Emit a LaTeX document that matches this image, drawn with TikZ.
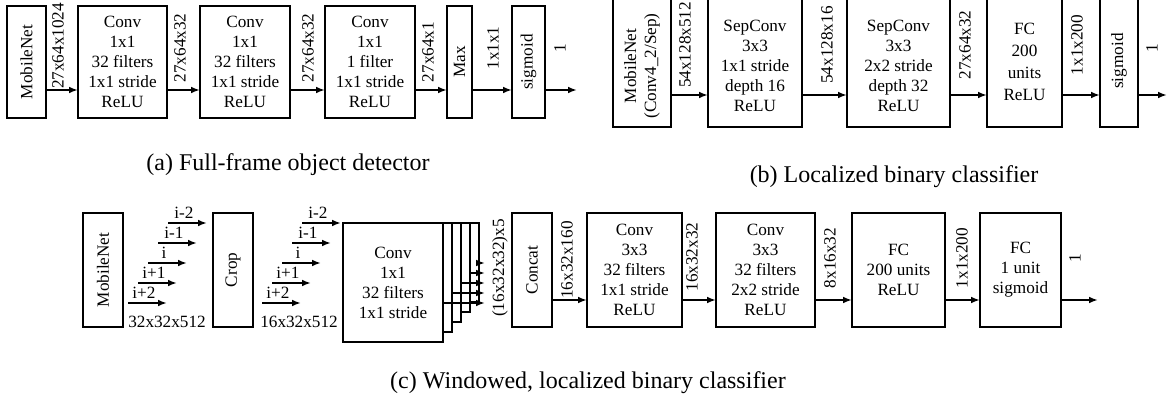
\documentclass[tikz,border=0pt]{standalone}
\usepackage{fontspec}
\setmainfont{Liberation Serif}
\usetikzlibrary{arrows.meta}
\newcommand\fs{\fontsize{8.6}{10}\selectfont}
\newcommand\capfs{\fontsize{12}{14}\selectfont}
\newcommand\bx[6][]{\pgfmathsetmacro\bw{(#5-#3)*0.5}\pgfmathsetmacro\bh{(#6-#4)*0.5}%
  \node[box,#1,minimum width=\bw pt,minimum height=\bh pt] (#2) at ({(#3+#5)/2},{(#4+#6)/2}) {};}
\begin{document}
\begin{tikzpicture}[x=0.5pt,y=-0.5pt,
  box/.style={draw,line width=0.9pt,inner sep=0pt,outer sep=0pt},
  txt/.style={align=center,inner sep=0pt,font=\fs},
  rtxt/.style={txt,rotate=90},
  lab/.style={rotate=90,inner sep=0pt,font=\fs},
  slab/.style={inner sep=0pt,font=\fs,anchor=south},
  captxt/.style={inner sep=0pt,font=\capfs},
  arr/.style={line width=0.9pt,-{Latex[length=4.5pt,width=3.4pt]}}]
\useasboundingbox (0,0) rectangle (1170,400);
\clip (0,0) rectangle (1170,400);
% ---------------- (a)
\coordinate (ya) at (0,90);
\bx{mna}{7}{6}{46}{118}
\bx{ca1}{78}{6}{167}{118}
\bx{ca2}{200}{6}{290}{118}
\bx{ca3}{325}{6}{415}{118}
\bx{maxa}{447}{6}{472}{118}
\bx{siga}{512}{6}{545}{118}
\coordinate (enda) at (577,90);
\node[rtxt] (tmna) at (mna.center) {MobileNet};
\node[txt] (tca1) at (ca1.center) {Conv\\1x1\\32 filters\\1x1 stride\\ReLU};
\node[txt] (tca2) at (ca2.center) {Conv\\1x1\\32 filters\\1x1 stride\\ReLU};
\node[txt] (tca3) at (ca3.center) {Conv\\1x1\\1 filter\\1x1 stride\\ReLU};
\node[rtxt] (tmaxa) at (maxa.center) {Max};
\node[rtxt] (tsiga) at (siga.center) {sigmoid};
\draw[arr] (mna.east |- ya) -- (ca1.west |- ya);
\draw[arr] (ca1.east |- ya) -- (ca2.west |- ya);
\draw[arr] (ca2.east |- ya) -- (ca3.west |- ya);
\draw[arr] (ca3.east |- ya) -- (maxa.west |- ya);
\draw[arr] (maxa.east |- ya) -- (siga.west |- ya);
\draw[arr] (siga.east |- ya) -- (enda);
\node[lab] (la1) at (58,46) {27x64x1024};
\node[lab] (la2) at (180,48) {27x64x32};
\node[lab] (la3) at (308,48) {27x64x32};
\node[lab] (la4) at (428,52) {27x64x1};
\node[lab] (la5) at (493,48) {1x1x1};
\node[lab] (la6) at (560,48) {1};
\node[captxt] (capa) at (288,165) {(a) Full-frame object detector};
% ---------------- (b)
\coordinate (yb) at (0,95);
\bx{mnb}{613}{-4}{671}{127}
\bx{sc1}{708}{-4}{802}{127}
\bx{sc2}{847}{-4}{950}{127}
\bx{fcb}{987}{-4}{1062}{127}
\bx{sigb}{1100}{-4}{1138}{127}
\coordinate (endb) at (1167,95);
\node[rtxt] (tmnb) at (642,66) {MobileNet\\(Conv4\_2/Sep)};
\node[txt] (tsc1) at (755,66) {SepConv\\3x3\\1x1 stride\\depth 16\\ReLU};
\node[txt] (tsc2) at (898.5,66) {SepConv\\3x3\\2x2 stride\\depth 32\\ReLU};
\node[txt,font=\fontsize{8.6}{11}\selectfont] (tfcb) at (1024.5,62) {FC\\200\\units\\ReLU};
\node[rtxt] (tsigb) at (1119,61) {sigmoid};
\draw[arr] (mnb.east |- yb) -- (sc1.west |- yb);
\draw[arr] (sc1.east |- yb) -- (sc2.west |- yb);
\draw[arr] (sc2.east |- yb) -- (fcb.west |- yb);
\draw[arr] (fcb.east |- yb) -- (sigb.west |- yb);
\draw[arr] (sigb.east |- yb) -- (endb);
\node[lab] (lb1) at (685,45) {54x128x512};
\node[lab] (lb2) at (827,45) {54x128x16};
\node[lab] (lb3) at (965,45) {27x64x32};
\node[lab] (lb4) at (1077,45) {1x1x200};
\node[lab] (lb5) at (1152,48) {1};
\node[captxt] (capb) at (894,177) {(b) Localized binary classifier};
% ---------------- (c)
\coordinate (yc) at (0,300);
\bx{mnc}{83}{213}{123}{327}
\bx{crop}{213}{213}{253}{327}
\foreach \k in {4,3,2,1,0}{
  \bx[fill=white]{st\k}{343+4.5*\k}{223-5*\k}{443+4.5*\k}{342-5*\k}
}
\bx{concat}{512}{213}{552}{327}
\bx{cc1}{587}{213}{682}{327}
\bx{cc2}{716}{213}{815}{327}
\bx{fc1}{852}{213}{945}{327}
\bx{fc2}{980}{213}{1061}{327}
\coordinate (endc) at (1098,300);
\node[rtxt] (tmnc) at (103,270) {MobileNet};
\node[rtxt] (tcrop) at (233,270) {Crop};
\node[txt] (tst) at (st0.center) {Conv\\1x1\\32 filters\\1x1 stride};
\node[rtxt] (tconcat) at (532,270) {Concat};
\node[txt] (tcc1) at (cc1.center) {Conv\\3x3\\32 filters\\1x1 stride\\ReLU};
\node[txt] (tcc2) at (cc2.center) {Conv\\3x3\\32 filters\\2x2 stride\\ReLU};
\node[txt] (tfc1) at (fc1.center) {FC\\200 units\\ReLU};
\node[txt] (tfc2) at (fc2.center) {FC\\1 unit\\sigmoid};
% staircases
\foreach \k/\t in {0/i+2,1/i+1,2/i,3/i-1,4/i-2}{
  \coordinate (as\k) at ({128+10*\k},{303-20*\k});
  \coordinate (ae\k) at ({167+10*\k},{303-20*\k});
  \draw[arr] (as\k) -- (ae\k);
  \node[slab] (al\k) at ({144+10*\k},{299-20*\k}) {\t};
  \coordinate (bs\k) at ({262+10*\k},{303-20*\k});
  \coordinate (be\k) at ({301+10*\k},{303-20*\k});
  \draw[arr] (bs\k) -- (be\k);
  \node[slab] (bl\k) at ({278+10*\k},{299-20*\k}) {\t};
}
\node[txt] (l32) at (167,322) {32x32x512};
\node[txt] (l16) at (299,322) {16x32x512};
% stack outputs
\coordinate (sx) at (485,0);
\foreach \k in {0,...,4}{
  \coordinate (yk\k) at (0,{303-10*\k});
  \draw[arr] (st\k.east |- yk\k) -- (sx |- yk\k);
}
\draw[arr] (concat.east |- yc) -- (cc1.west |- yc);
\draw[arr] (cc1.east |- yc) -- (cc2.west |- yc);
\draw[arr] (cc2.east |- yc) -- (fc1.west |- yc);
\draw[arr] (fc1.east |- yc) -- (fc2.west |- yc);
\draw[arr] (fc2.east |- yc) -- (endc);
\node[lab] (lc0) at (500,268) {(16x32x32)x5};
\node[lab] (lc1) at (567,260) {16x32x160};
\node[lab] (lc2) at (692,257) {16x32x32};
\node[lab] (lc3) at (830,258) {8x16x32};
\node[lab] (lc4) at (962,258) {1x1x200};
\node[lab] (lc5) at (1075,258) {1};
\node[captxt] (capc) at (588,383) {(c) Windowed, localized binary classifier};
\end{tikzpicture}
\end{document}
